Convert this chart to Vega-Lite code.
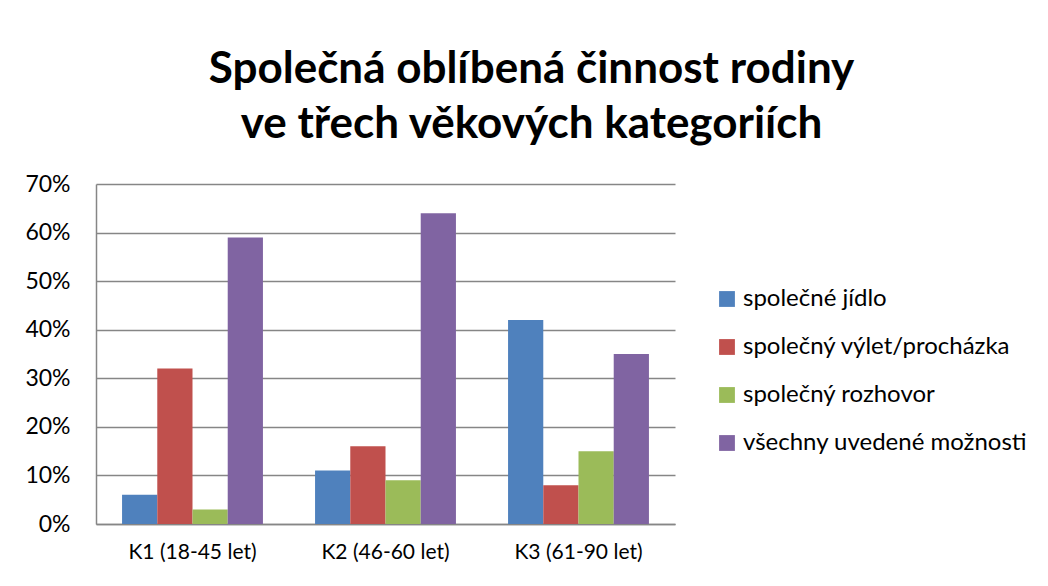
{
  "$schema": "https://vega.github.io/schema/vega-lite/v6.json",
  "width": 579,
  "height": 340,
  "autosize": {"type": "none"},
  "padding": {"left": 96, "top": 184, "right": 373, "bottom": 62},
  "background": "white",
  "title": {
    "text": ["Společná oblíbená činnost rodiny", "ve třech věkových kategoriích"],
    "font": "Lato",
    "fontSize": 44,
    "fontWeight": "bold",
    "color": "black",
    "lineHeight": 55,
    "anchor": "middle",
    "dx": 146,
    "offset": 26
  },
  "data": {
    "values": [
      {"kat": "K1 (18-45 let)", "cin": "společné jídlo", "v": 0.06},
      {"kat": "K1 (18-45 let)", "cin": "společný výlet/procházka", "v": 0.32},
      {"kat": "K1 (18-45 let)", "cin": "společný rozhovor", "v": 0.03},
      {"kat": "K1 (18-45 let)", "cin": "všechny uvedené možnosti", "v": 0.59},
      {"kat": "K2 (46-60 let)", "cin": "společné jídlo", "v": 0.11},
      {"kat": "K2 (46-60 let)", "cin": "společný výlet/procházka", "v": 0.16},
      {"kat": "K2 (46-60 let)", "cin": "společný rozhovor", "v": 0.09},
      {"kat": "K2 (46-60 let)", "cin": "všechny uvedené možnosti", "v": 0.64},
      {"kat": "K3 (61-90 let)", "cin": "společné jídlo", "v": 0.42},
      {"kat": "K3 (61-90 let)", "cin": "společný výlet/procházka", "v": 0.08},
      {"kat": "K3 (61-90 let)", "cin": "společný rozhovor", "v": 0.15},
      {"kat": "K3 (61-90 let)", "cin": "všechny uvedené možnosti", "v": 0.35}
    ]
  },
  "mark": {"type": "bar"},
  "encoding": {
    "x": {
      "field": "kat", "type": "nominal", "title": null,
      "scale": {"paddingInner": 0.27, "paddingOuter": 0.135},
      "axis": {"labelAngle": 0, "labelFontSize": 21, "labelFont": "Lato", "labelColor": "black", "ticks": false, "labelPadding": 17, "domainColor": "#868686", "domainWidth": 1.5}
    },
    "xOffset": {
      "field": "cin", "type": "nominal",
      "sort": ["společné jídlo", "společný výlet/procházka", "společný rozhovor", "všechny uvedené možnosti"],
      "scale": {"paddingInner": 0, "paddingOuter": 0}
    },
    "y": {
      "field": "v", "type": "quantitative", "title": null,
      "scale": {"domain": [0, 0.7], "nice": false},
      "axis": {"format": ".0%", "values": [0, 0.1, 0.2, 0.3, 0.4, 0.5, 0.6, 0.7], "labelFontSize": 23, "labelFont": "Lato", "labelColor": "black", "ticks": false, "labelPadding": 26, "gridColor": "#868686", "gridWidth": 1.5, "domainColor": "#868686", "domainWidth": 1.5}
    },
    "color": {
      "field": "cin", "type": "nominal",
      "sort": ["společné jídlo", "společný výlet/procházka", "společný rozhovor", "všechny uvedené možnosti"],
      "scale": {"domain": ["společné jídlo", "společný výlet/procházka", "společný rozhovor", "všechny uvedené možnosti"], "range": ["#4F81BD", "#C0504D", "#9BBB59", "#8064A2"]},
      "legend": {
        "title": null, "orient": "none", "legendX": 619, "legendY": 103,
        "symbolType": "square", "symbolSize": 250, "symbolStrokeWidth": 0,
        "labelFontSize": 24, "labelFont": "Lato", "labelColor": "black", "labelLimit": 400,
        "rowPadding": 24, "labelOffset": 4
      }
    }
  },
  "config": {"view": {"stroke": null}}
}
